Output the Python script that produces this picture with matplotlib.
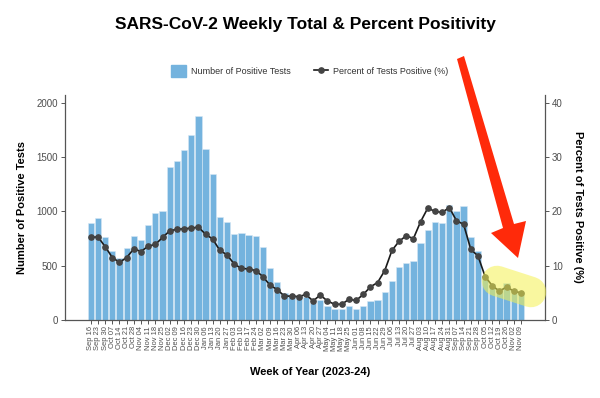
import numpy as np
import matplotlib
matplotlib.use("Agg")
from matplotlib import pyplot as plt
from matplotlib.patches import Polygon
from matplotlib.lines import Line2D

plt.rcParams['font.family'] = ['Liberation Sans', 'DejaVu Sans']

weeks = ['Sep 16', 'Sep 23', 'Sep 30', 'Oct 07', 'Oct 14', 'Oct 21', 'Oct 28',
         'Nov 04', 'Nov 11', 'Nov 18', 'Nov 25', 'Dec 02', 'Dec 09', 'Dec 16',
         'Dec 23', 'Dec 30', 'Jan 06', 'Jan 13', 'Jan 20', 'Jan 27', 'Feb 03',
         'Feb 10', 'Feb 17', 'Feb 24', 'Mar 02', 'Mar 09', 'Mar 16', 'Mar 23',
         'Mar 30', 'Apr 06', 'Apr 13', 'Apr 20', 'Apr 27', 'May 04', 'May 11',
         'May 18', 'May 25', 'Jun 01', 'Jun 08', 'Jun 15', 'Jun 22', 'Jun 29',
         'Jul 06', 'Jul 13', 'Jul 20', 'Jul 27', 'Aug 03', 'Aug 10', 'Aug 17',
         'Aug 24', 'Aug 31', 'Sep 07', 'Sep 14', 'Sep 21', 'Sep 28', 'Oct 05',
         'Oct 12', 'Oct 19', 'Oct 26', 'Nov 02', 'Nov 09']

positive_tests = [896, 936, 768, 636, 569, 667, 771, 734, 878, 985, 1000,
                  1404, 1459, 1563, 1703, 1878, 1575, 1346, 948, 902, 795,
                  804, 783, 774, 670, 480, 352, 245, 229, 220, 214, 153, 183,
                  131, 101, 101, 131, 104, 131, 177, 180, 254, 358, 489, 526,
                  541, 713, 826, 905, 893, 1055, 1003, 1049, 764, 636, 390,
                  330, 290, 337, 281, 260]

pct_positive = [15.2, 15.3, 13.5, 11.5, 10.6, 11.5, 13.1, 12.6, 13.6, 13.9,
                15.2, 16.4, 16.7, 16.8, 16.9, 17.1, 15.8, 14.9, 12.8, 12.0,
                10.3, 9.5, 9.4, 9.1, 8.0, 6.4, 5.6, 4.4, 4.4, 4.3, 4.7, 3.5,
                4.6, 3.5, 2.9, 2.9, 3.8, 3.6, 4.7, 6.1, 6.9, 9.1, 12.8, 14.5,
                15.5, 15.0, 18.1, 20.6, 20.0, 19.8, 20.7, 18.3, 17.6, 13.0,
                11.8, 8.0, 6.3, 5.3, 6.1, 5.3, 5.0]

W, H = 600, 398
fig = plt.figure(figsize=(6, 3.98), dpi=100)

ax = fig.add_axes([65 / W, 1 - 320 / H, 480 / W, 225 / H])
x = np.arange(len(weeks))
bar_color = '#74b3de'
ax.bar(x, positive_tests, width=0.88, color=bar_color, edgecolor='#d6e8f5',
       linewidth=0.4, zorder=2)
ax.set_xlim(-3.6, 63.35)
ymax = 2071
ax.set_ylim(0, ymax)
ax.set_yticks([0, 500, 1000, 1500, 2000])
ax.set_xticks(x)
ax.set_xticklabels(weeks, rotation=90, color='#4d4d4d')

ax2 = ax.twinx()
ax2.set_ylim(0, ymax / 50)
ax2.set_yticks([0, 10, 20, 30, 40])
ax2.plot(x, pct_positive, '-', color='#1a1a1a', linewidth=1.2, zorder=3)
ax2.plot(x, pct_positive, 'o', color='#444444', markersize=3.8, zorder=4)

for a in (ax, ax2):
    a.spines['top'].set_visible(False)
    for s in ('left', 'right', 'bottom'):
        a.spines[s].set_color('#555555')
        a.spines[s].set_linewidth(0.9)
    a.tick_params(length=3, width=0.7, color='#555555', labelsize=7,
                  labelcolor='#4d4d4d', pad=2)
ax.spines['right'].set_visible(False)
ax2.spines['left'].set_visible(False)
ax2.spines['bottom'].set_visible(False)
ax.tick_params(axis='x', labelsize=5.4, pad=1.5)

fig.text(305 / W, 1 - 24 / H, 'SARS-CoV-2 Weekly Total & Percent Positivity',
         ha='center', va='center', fontsize=12.5, fontweight='bold')
fig.text(22 / W, 1 - 207 / H, 'Number of Positive Tests', rotation=90,
         ha='center', va='center', fontsize=8, fontweight='bold')
fig.text(578 / W, 1 - 207 / H, 'Percent of Tests Positive (%)', rotation=270,
         ha='center', va='center', fontsize=8, fontweight='bold')
fig.text(310 / W, 1 - 372 / H, 'Week of Year (2023-24)',
         ha='center', va='center', fontsize=8, fontweight='bold')

handles = [plt.Rectangle((0, 0), 1, 1, color=bar_color),
           Line2D([], [], color='#1a1a1a', marker='o', markersize=3.8,
                  markerfacecolor='#444444', markeredgecolor='#444444',
                  linewidth=1.2)]
fig.legend(handles, ['Number of Positive Tests', 'Percent of Tests Positive (%)'],
           loc='center', bbox_to_anchor=(310 / W, 1 - 71 / H), ncol=2,
           frameon=False, fontsize=6.5, handlelength=1.6, handleheight=1.6,
           columnspacing=2.5, handletextpad=0.6, labelcolor='#333333')

# highlighter stroke over the latest weeks
fig.add_artist(Line2D([497 / W, 531 / W], [1 - 281 / H, 1 - 292 / H],
                      transform=fig.transFigure, color='#f5f250', alpha=0.55,
                      linewidth=22, solid_capstyle='round', zorder=10))

# red arrow pointing at it
arrow_px = [(457, 59), (464, 56), (514, 224), (526, 221), (518, 258),
            (491, 233), (503, 228)]
fig.add_artist(Polygon([(px / W, 1 - py / H) for px, py in arrow_px],
                       closed=True, transform=fig.transFigure,
                       facecolor='#ff2a0a', edgecolor='none', zorder=11))

fig.savefig('out.png', dpi=100)
